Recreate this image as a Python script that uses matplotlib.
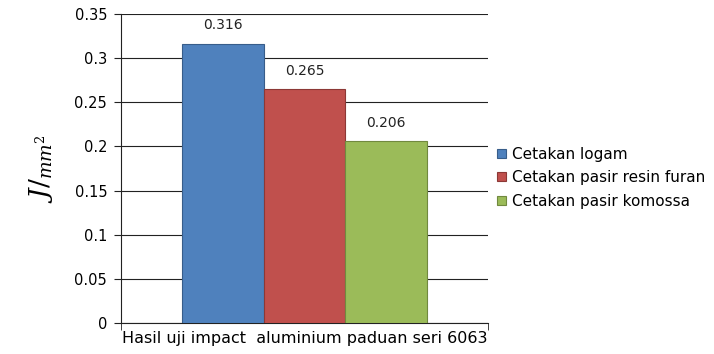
import matplotlib
matplotlib.use("Agg")
import matplotlib.pyplot as plt
from matplotlib.ticker import FixedLocator

plt.rcParams["mathtext.fontset"] = "dejavuserif"

category = "Hasil uji impact  aluminium paduan seri 6063"
series = ["Cetakan logam", "Cetakan pasir resin furan", "Cetakan pasir komossa"]
values = [0.316, 0.265, 0.206]
colors = ["#4F81BD", "#C0504D", "#9BBB59"]
edges = ["#385D8A", "#8C3836", "#71893F"]
yticks = [0, 0.05, 0.1, 0.15, 0.2, 0.25, 0.3, 0.35]
ytick_labels = ["0", "0.05", "0.1", "0.15", "0.2", "0.25", "0.3", "0.35"]

fig = plt.figure(figsize=(7.14, 3.54), dpi=100)
ax = fig.add_axes([0.1695, 0.0876, 0.514, 0.873])

width = 0.222
offsets = [-width, 0, width]
handles = []
for s, v, c, e, o in zip(series, values, colors, edges, offsets):
    b = ax.bar(o, v, width=width, color=c, edgecolor=e, linewidth=0.8, label=s, zorder=3)
    handles.append(b)
    ax.text(o, v + 0.013, f"{v:.3f}", ha="center", va="bottom", fontsize=10, color="#222222")

ax.set_xlim(-0.5, 0.5)
ax.set_ylim(0, 0.35)
ax.set_yticks(yticks)
ax.set_yticklabels(ytick_labels, fontsize=10.5)
ax.yaxis.grid(True, color="#222222", linewidth=0.8, zorder=0)
ax.set_axisbelow(True)

ax.set_xticks([0])
ax.set_xticklabels([category], fontsize=11.5)
ax.tick_params(axis="x", which="major", length=0, pad=6)
ax.xaxis.set_minor_locator(FixedLocator([-0.5, 0.5]))
ax.tick_params(axis="x", which="minor", length=5, direction="out", color="#222222")
ax.tick_params(axis="y", length=5, direction="out", color="#222222", pad=5)

for sp in ["top", "right"]:
    ax.spines[sp].set_visible(False)
for sp in ["left", "bottom"]:
    ax.spines[sp].set_color("#222222")
    ax.spines[sp].set_linewidth(0.8)

ax.set_ylabel(r"$J/_{mm^2}$", fontsize=19, labelpad=14)

ax.legend(handles=handles, loc="center left", bbox_to_anchor=(1.0, 0.47),
          frameon=False, fontsize=11, handlelength=0.55, handleheight=0.55,
          handletextpad=0.4, labelspacing=0.55, borderaxespad=0.2)

fig.savefig("out.png", dpi=100)
